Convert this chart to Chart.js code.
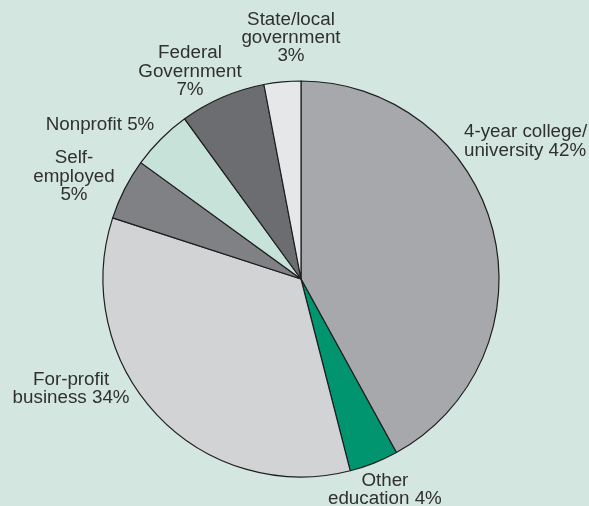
<!DOCTYPE html>
<html>
<head>
<meta charset="utf-8">
<script src="https://cdn.jsdelivr.net/npm/chart.js@4/dist/chart.umd.min.js"></script>
<style>
  html, body { margin: 0; padding: 0; background: #d3e7e0; }
  #wrap { width: 589px; height: 506px; position: relative; }
</style>
</head>
<body>
<div id="wrap"><canvas id="c" width="589" height="506"></canvas></div>
<script>
// Employment sector shares (percent), clockwise from 12 o'clock
const sectors = [
  '4-year college/university',
  'Other education',
  'For-profit business',
  'Self-employed',
  'Nonprofit',
  'Federal Government',
  'State/local government'
];
const shares = [42, 4, 34, 5, 5, 7, 3];
// Label text, one entry per line, drawn around the pie
const labelLines = [
  ['4-year college/', 'university 42%'],
  ['Other', 'education 4%'],
  ['For-profit', 'business 34%'],
  ['Self-', 'employed', '5%'],
  ['Nonprofit 5%'],
  ['Federal', 'Government', '7%'],
  ['State/local', 'government', '3%']
];

const sliceColors = ['#a7a8ac', '#00956f', '#d1d3d5', '#808184', '#c6e2d9', '#6c6d71', '#e6e7e9'];

// Where each label's first baseline sits relative to the outer edge of its slice (at mid-angle)
const labelPlacement = [
  { dx: -28.8, dy: -92.5, align: 'left' },
  { dx: 11, dy: 22.7, align: 'center' },
  { dx: -85.6, dy: -29.5, align: 'center' },
  { dx: -50.6, dy: -25.7, align: 'center' },
  { dx: -61, dy: -9, align: 'center' },
  { dx: -32.4, dy: -39, align: 'center' },
  { dx: 8.6, dy: -57, align: 'center' }
];

const sliceLabels = {
  id: 'sliceLabels',
  afterDraw(chart) {
    const ctx = chart.ctx;
    const arcs = chart.getDatasetMeta(0).data;
    ctx.save();
    ctx.font = '18.8px "Liberation Sans", Arial, sans-serif';
    ctx.fillStyle = '#303030';
    ctx.textBaseline = 'alphabetic';
    arcs.forEach((arc, i) => {
      const p = arc.getProps(['x', 'y', 'startAngle', 'endAngle', 'outerRadius'], true);
      const mid = (p.startAngle + p.endAngle) / 2;
      const ax = p.x + Math.cos(mid) * p.outerRadius;
      const ay = p.y + Math.sin(mid) * p.outerRadius;
      const pl = labelPlacement[i];
      ctx.textAlign = pl.align;
      labelLines[i].forEach((line, k) => {
        ctx.fillText(line, ax + pl.dx, ay + pl.dy + k * 18.3);
      });
    });
    ctx.restore();
  }
};

new Chart(document.getElementById('c'), {
  type: 'pie',
  data: {
    labels: sectors,
    datasets: [{
      data: shares,
      backgroundColor: sliceColors,
      borderColor: '#1e1e1e',
      borderWidth: 1.2
    }]
  },
  options: {
    responsive: false,
    animation: false,
    radius: 198,
    layout: { padding: { left: 13, right: 0, top: 52, bottom: 0 } },
    plugins: {
      legend: { display: false },
      tooltip: { enabled: false }
    }
  },
  plugins: [sliceLabels]
});
</script>
</body>
</html>
